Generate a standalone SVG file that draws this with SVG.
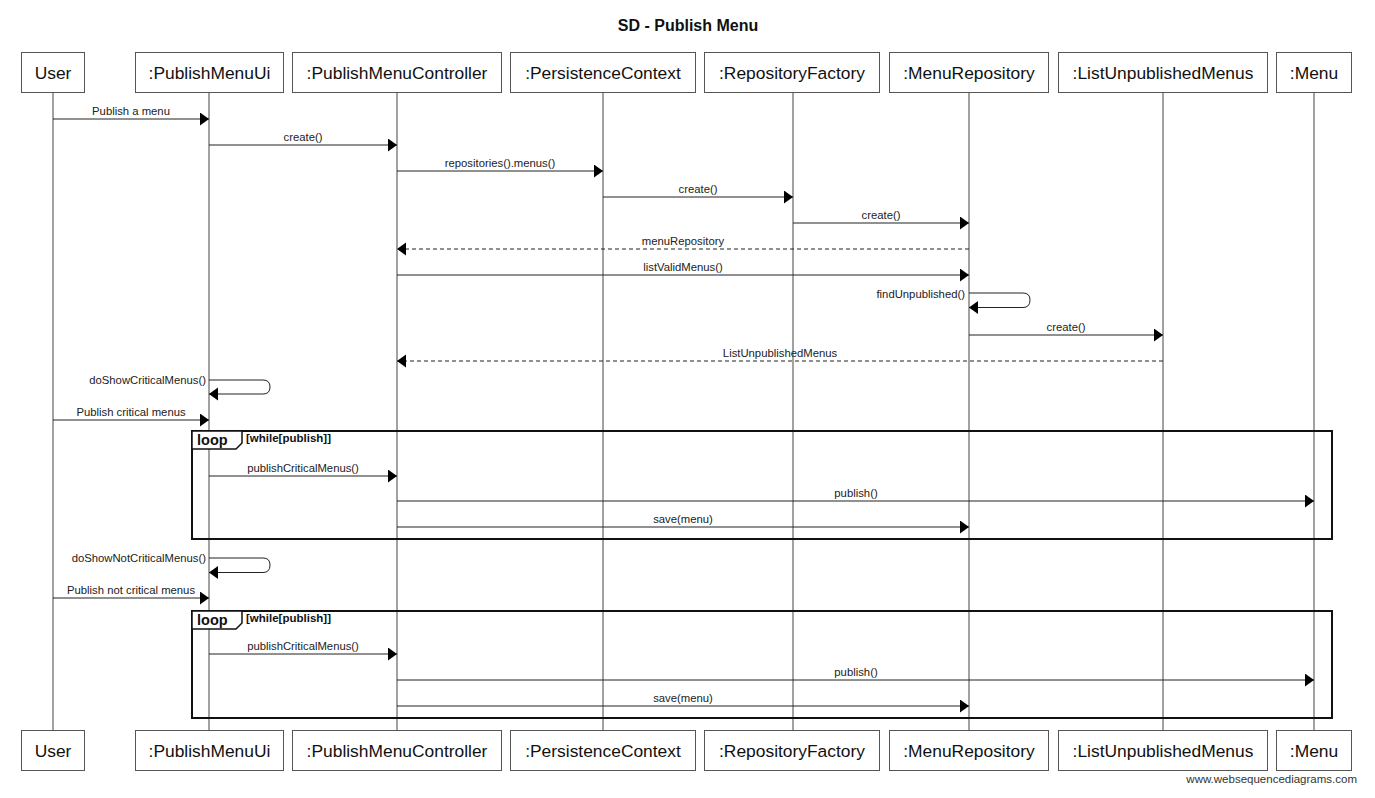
<svg xmlns="http://www.w3.org/2000/svg" width="1375" height="798" viewBox="0 0 1375 798">
<style>
.bg{fill:#fff}
.box{fill:#fff;stroke:#555;stroke-width:1}
.hdr{font-family:"Liberation Sans",Arial,sans-serif;font-size:17.4px;fill:#111;text-anchor:middle}
.life{stroke:#444;stroke-width:1}
.msg{stroke:#222;stroke-width:1;fill:none}
.ret{stroke:#222;stroke-width:1;fill:none;stroke-dasharray:4,3}
.lbl{font-family:"Liberation Sans",Arial,sans-serif;font-size:11.3px;fill:#222;text-anchor:middle}
.lblr{font-family:"Liberation Sans",Arial,sans-serif;font-size:11.3px;fill:#222;text-anchor:end}
.frame{fill:none;stroke:#111;stroke-width:2}
.tab{fill:#fff;stroke:#111;stroke-width:1.5}
.loopt{font-family:"Liberation Sans",Arial,sans-serif;font-size:14.5px;font-weight:bold;fill:#111}
.guard{font-family:"Liberation Sans",Arial,sans-serif;font-size:11.5px;font-weight:bold;fill:#111}
.title{font-family:"Liberation Sans",Arial,sans-serif;font-size:16px;font-weight:bold;fill:#111;text-anchor:middle}
.wm{font-family:"Liberation Sans",Arial,sans-serif;font-size:11.5px;fill:#333;text-anchor:end}
</style>
<defs>
<marker id="ah" markerUnits="userSpaceOnUse" markerWidth="10" markerHeight="14" refX="9" refY="6.5" orient="auto">
<path d="M0,0 L9,6.5 L0,13 z" fill="#000"/>
</marker>
</defs>
<rect class="bg" x="0" y="0" width="1375" height="798"/>
<text class="title" x="688" y="31">SD - Publish Menu</text>

<g id="lifelines">
<line class="life" x1="53" y1="93" x2="53" y2="730"/>
<line class="life" x1="209" y1="93" x2="209" y2="730"/>
<line class="life" x1="397" y1="93" x2="397" y2="730"/>
<line class="life" x1="603" y1="93" x2="603" y2="730"/>
<line class="life" x1="793" y1="93" x2="793" y2="730"/>
<line class="life" x1="969" y1="93" x2="969" y2="730"/>
<line class="life" x1="1163" y1="93" x2="1163" y2="730"/>
<line class="life" x1="1314" y1="93" x2="1314" y2="730"/>
</g>

<g id="frames">
<rect class="frame" x="192" y="431" width="1140" height="108"/>
<path class="tab" d="M192,431 H242 V443 L236,449 H192 z"/>
<text class="loopt" x="197" y="445">loop</text>
<text class="guard" x="246" y="442">[while[publish]]</text>
<rect class="frame" x="192" y="611" width="1140" height="107"/>
<path class="tab" d="M192,611 H242 V623 L236,629 H192 z"/>
<text class="loopt" x="197" y="625">loop</text>
<text class="guard" x="246" y="622">[while[publish]]</text>
</g>

<g id="connectors">
<line class="msg" x1="53" y1="119" x2="209" y2="119" marker-end="url(#ah)"/>
<text class="lbl" x="131" y="114.5">Publish a menu</text>
<line class="msg" x1="209" y1="145" x2="397" y2="145" marker-end="url(#ah)"/>
<text class="lbl" x="303" y="140.5">create()</text>
<line class="msg" x1="397" y1="171" x2="603" y2="171" marker-end="url(#ah)"/>
<text class="lbl" x="500" y="166.5">repositories().menus()</text>
<line class="msg" x1="603" y1="197" x2="793" y2="197" marker-end="url(#ah)"/>
<text class="lbl" x="698" y="192.5">create()</text>
<line class="msg" x1="793" y1="223" x2="969" y2="223" marker-end="url(#ah)"/>
<text class="lbl" x="881" y="218.5">create()</text>
<line class="ret" x1="969" y1="249" x2="397" y2="249" marker-end="url(#ah)"/>
<text class="lbl" x="683" y="244.5">menuRepository</text>
<line class="msg" x1="397" y1="275" x2="969" y2="275" marker-end="url(#ah)"/>
<text class="lbl" x="683" y="270.5">listValidMenus()</text>
<path class="msg" d="M969,293 H1023 Q1030,293 1030,300 Q1030,307.5 1023,307.5 H969" marker-end="url(#ah)"/>
<text class="lblr" x="965" y="298">findUnpublished()</text>
<line class="msg" x1="969" y1="335" x2="1163" y2="335" marker-end="url(#ah)"/>
<text class="lbl" x="1066" y="330.5">create()</text>
<line class="ret" x1="1163" y1="361" x2="397" y2="361" marker-end="url(#ah)"/>
<text class="lbl" x="780" y="356.5">ListUnpublishedMenus</text>
<path class="msg" d="M209,380 H263 Q270,380 270,387 Q270,394 263,394 H209" marker-end="url(#ah)"/>
<text class="lblr" x="206" y="384">doShowCriticalMenus()</text>
<line class="msg" x1="53" y1="420" x2="209" y2="420" marker-end="url(#ah)"/>
<text class="lbl" x="131" y="415.5">Publish critical menus</text>
<line class="msg" x1="209" y1="476" x2="397" y2="476" marker-end="url(#ah)"/>
<text class="lbl" x="303" y="471.5">publishCriticalMenus()</text>
<line class="msg" x1="397" y1="501" x2="1314" y2="501" marker-end="url(#ah)"/>
<text class="lbl" x="856" y="496.5">publish()</text>
<line class="msg" x1="397" y1="527" x2="969" y2="527" marker-end="url(#ah)"/>
<text class="lbl" x="683" y="522.5">save(menu)</text>
<path class="msg" d="M209,558 H263 Q270,558 270,565 Q270,572.5 263,572.5 H209" marker-end="url(#ah)"/>
<text class="lblr" x="206" y="562">doShowNotCriticalMenus()</text>
<line class="msg" x1="53" y1="598" x2="209" y2="598" marker-end="url(#ah)"/>
<text class="lbl" x="131" y="593.5">Publish not critical menus</text>
<line class="msg" x1="209" y1="654" x2="397" y2="654" marker-end="url(#ah)"/>
<text class="lbl" x="303" y="649.5">publishCriticalMenus()</text>
<line class="msg" x1="397" y1="680" x2="1314" y2="680" marker-end="url(#ah)"/>
<text class="lbl" x="856" y="675.5">publish()</text>
<line class="msg" x1="397" y1="706" x2="969" y2="706" marker-end="url(#ah)"/>
<text class="lbl" x="683" y="701.5">save(menu)</text>
</g>

<g id="n-user">
<rect class="box" x="21.5" y="52.5" width="63" height="40"/><text class="hdr" x="53" y="79">User</text>
<rect class="box" x="21.5" y="730.5" width="63" height="40"/><text class="hdr" x="53" y="757">User</text>
</g>
<g id="n-ui">
<rect class="box" x="135.5" y="52.5" width="148" height="40"/><text class="hdr" x="209.5" y="79">:PublishMenuUi</text>
<rect class="box" x="135.5" y="730.5" width="148" height="40"/><text class="hdr" x="209.5" y="757">:PublishMenuUi</text>
</g>
<g id="n-controller">
<rect class="box" x="292.5" y="52.5" width="209" height="40"/><text class="hdr" x="397" y="79">:PublishMenuController</text>
<rect class="box" x="292.5" y="730.5" width="209" height="40"/><text class="hdr" x="397" y="757">:PublishMenuController</text>
</g>
<g id="n-persistence">
<rect class="box" x="510.5" y="52.5" width="185" height="40"/><text class="hdr" x="603" y="79">:PersistenceContext</text>
<rect class="box" x="510.5" y="730.5" width="185" height="40"/><text class="hdr" x="603" y="757">:PersistenceContext</text>
</g>
<g id="n-factory">
<rect class="box" x="704.5" y="52.5" width="175" height="40"/><text class="hdr" x="792" y="79">:RepositoryFactory</text>
<rect class="box" x="704.5" y="730.5" width="175" height="40"/><text class="hdr" x="792" y="757">:RepositoryFactory</text>
</g>
<g id="n-menurepo">
<rect class="box" x="889.5" y="52.5" width="159" height="40"/><text class="hdr" x="969" y="79">:MenuRepository</text>
<rect class="box" x="889.5" y="730.5" width="159" height="40"/><text class="hdr" x="969" y="757">:MenuRepository</text>
</g>
<g id="n-list">
<rect class="box" x="1058.5" y="52.5" width="209" height="40"/><text class="hdr" x="1163" y="79">:ListUnpublishedMenus</text>
<rect class="box" x="1058.5" y="730.5" width="209" height="40"/><text class="hdr" x="1163" y="757">:ListUnpublishedMenus</text>
</g>
<g id="n-menu">
<rect class="box" x="1276.5" y="52.5" width="75" height="40"/><text class="hdr" x="1314" y="79">:Menu</text>
<rect class="box" x="1276.5" y="730.5" width="75" height="40"/><text class="hdr" x="1314" y="757">:Menu</text>
</g>
<text class="wm" x="1357" y="783">www.websequencediagrams.com</text>
</svg>
